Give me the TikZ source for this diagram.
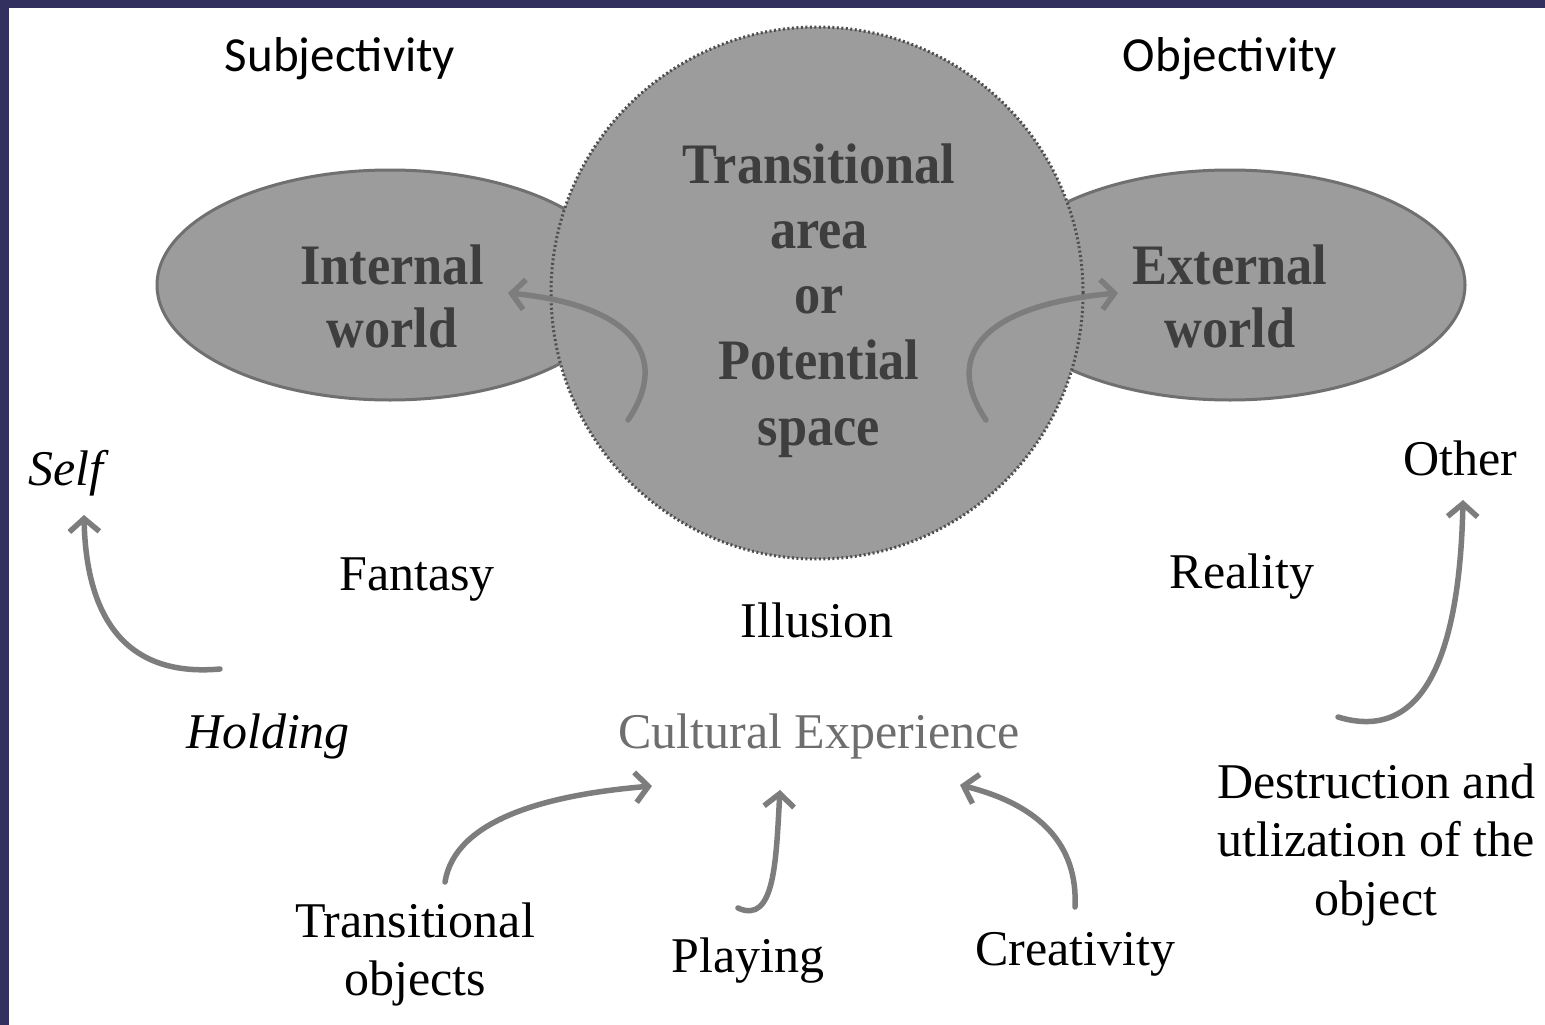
\documentclass[tikz,border=0pt]{standalone}
\usepackage{fontspec}
\setmainfont{Liberation Serif}
\newfontfamily\sansf{Carlito}
\usetikzlibrary{arrows.meta}
\definecolor{navy}{RGB}{49,48,94}
\definecolor{blobfill}{RGB}{156,156,156}
\definecolor{blobedge}{RGB}{112,112,112}
\definecolor{blobtext}{RGB}{62,62,62}
\definecolor{arrowgray}{RGB}{125,125,125}
\definecolor{culturegray}{RGB}{110,110,110}
\begin{document}
\begin{tikzpicture}[x=1pt,y=-1pt,
  lbl/.style={font=\fontsize{50}{58}\selectfont, inner sep=0pt, anchor=base},
  lblit/.style={lbl, font=\fontsize{50}{58}\selectfont\itshape},
  sanslbl/.style={font=\fontsize{49}{58}\sansf, inner sep=0pt, anchor=base},
  boldlbl/.style={font=\fontsize{54}{66}\selectfont\bfseries, text=blobtext, inner sep=0pt, anchor=base, xscale=0.97, yscale=1.06},
  blob/.style={fill=blobfill, draw=blobedge, line width=3pt},
  flow/.style={draw=arrowgray, line width=5.5pt, -{Straight Barb[length=13pt,width=30pt,line width=5.5pt]}, line cap=round}
]
% background and frame
\fill[white] (0,0) rectangle (1545,1025);
\fill[navy] (0,0) rectangle (1545,8);
\fill[navy] (0,0) rectangle (9,1025);
\useasboundingbox (0,0) rectangle (1545,1025);

% headings
\node[sanslbl] (subj) at (340,72) {Subjectivity};
\node[sanslbl] (obj) at (1230,72) {Objectivity};

% shapes
\draw[blob] (390,285) ellipse [x radius=233, y radius=115];
\draw[blob] (1230,285) ellipse [x radius=235, y radius=115];
\fill[blobfill] (817,293) circle [radius=266];
\draw[blobedge!70!black, line width=3pt, dash pattern=on 2pt off 2.5pt] (817,293) circle [radius=266];

% bold texts
\node[boldlbl] (iw1) at (392,284) {Internal};
\node[boldlbl] (iw2) at (392,347) {world};
\node[boldlbl] (ew1) at (1230,284) {External};
\node[boldlbl] (ew2) at (1230,347) {world};
\node[boldlbl] (ta1) at (819,183) {Transitional};
\node[boldlbl] (ta2) at (819,248) {area};
\node[boldlbl] (ta3) at (819,313) {or};
\node[boldlbl] (ta4) at (819,379) {Potential};
\node[boldlbl] (ta5) at (819,445) {space};

% arrows inside circle
\coordinate (la0) at (628,420);
\coordinate (la1) at (508,293);
\coordinate (ra0) at (986,420);
\coordinate (ra1) at (1118,293);
\draw[flow] (la0) .. controls (672,355) and (630,305) .. (la1);
\draw[flow] (ra0) .. controls (942,355) and (984,305) .. (ra1);

% labels
\node[lblit] (self) at (66,485) {Self};
\node[lbl] (fantasy) at (417,590) {Fantasy};
\node[lbl] (illusion) at (817,637) {Illusion};
\node[lbl] (reality) at (1242,588) {Reality};
\node[lbl] (other) at (1460,475) {Other};
\node[lblit] (holding) at (268,748) {Holding};
\node[lbl, text=culturegray] (culture) at (819,748) {Cultural Experience};
\node[lbl] (to1) at (415,937) {Transitional};
\node[lbl] (to2) at (415,995) {objects};
\node[lbl] (playing) at (748,972) {Playing};
\node[lbl] (creativity) at (1075,965) {Creativity};
\node[lbl] (du1) at (1376,798) {Destruction and};
\node[lbl] (du2) at (1376,856) {utlization of the};
\node[lbl] (du3) at (1376,915) {object};

% side arrows
\coordinate (hs0) at (220,669);
\coordinate (hs1) at (84,515);
\draw[flow] (hs0) .. controls (120,678) and (86,610) .. (hs1);
\coordinate (do0) at (1338,717);
\coordinate (do1) at (1463,500);
\draw[flow] (do0) .. controls (1430,745) and (1460,640) .. (do1);

% bottom arrows
\coordinate (t0) at (445,882);
\coordinate (t1) at (652,786);
\draw[flow] (t0) .. controls (455,820) and (545,795) .. (t1);
\coordinate (p0) at (738,908);
\coordinate (p1) at (780,790);
\draw[flow] (p0) .. controls (775,925) and (776,860) .. (p1);
\coordinate (c0) at (1075,907);
\coordinate (c1) at (960,785);
\draw[flow] (c0) .. controls (1078,845) and (1040,805) .. (c1);
\end{tikzpicture}
\end{document}
